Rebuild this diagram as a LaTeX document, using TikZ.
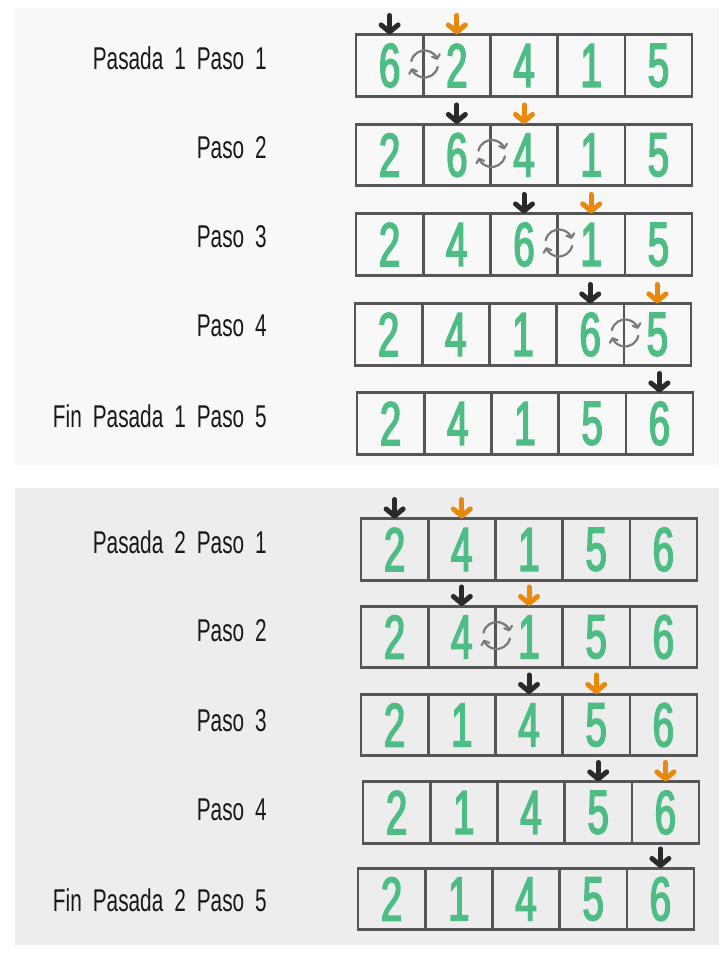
\documentclass[tikz,border=0pt]{standalone}
\usepackage{fontspec}
\setmainfont{Liberation Sans}
\newfontfamily\handfont[FakeStretch=0.66,WordSpace=1.9]{Liberation Sans}
\newfontfamily\digitfont[FakeStretch=0.62,FakeBold=2.5]{Liberation Sans}
\usetikzlibrary{arrows.meta,calc}
\definecolor{panelA}{HTML}{F8F8F8}
\definecolor{panelB}{HTML}{EDEDED}
\definecolor{cellline}{HTML}{555555}
\definecolor{digitgreen}{HTML}{4EBD84}
\definecolor{ptrblack}{HTML}{2A2A2A}
\definecolor{ptrorange}{HTML}{E8890C}
\definecolor{swapgray}{HTML}{7A7A7A}
\tikzset{
  cellbox/.style={draw=cellline, line width=2.6pt, minimum width=67.2pt, minimum height=61.5pt,
    inner sep=0pt, font=\digitfont\fontsize{62}{62}\selectfont, text=digitgreen},
  lbl/.style={anchor=east, inner sep=0pt, font=\handfont\fontsize{31.5}{31.5}\selectfont, text=black!90},
  ptrarrow/.style={line width=5pt, line cap=round, -{Straight Barb[length=7pt,width=17pt,round]}},
  blackptr/.style={ptrarrow, draw=ptrblack},
  orangeptr/.style={ptrarrow, draw=ptrorange},
  swaparr/.style={draw=swapgray, line width=2.2pt, line cap=round, -{Straight Barb[length=3.5pt,width=8pt,round]}}
}
% #1 name, #2 left x, #3 centre y, #4 digits, #5 black idx, #6 orange idx, #7 swap idx
\newcommand\steprow[7]{%
  \foreach \d [count=\i] in {#4} {
    \node[cellbox] (#1c\i) at ({#2+33.6+67.2*(\i-1)},#3) {\d};
  }
  \coordinate (#1b) at ([yshift=18pt]#1c#5.north);
  \draw[blackptr] (#1b) -- ([yshift=-1pt]#1c#5.north);
  \ifnum#6>0
    \coordinate (#1o) at ([yshift=18pt]#1c#6.north);
    \draw[orangeptr] (#1o) -- ([yshift=-1pt]#1c#6.north);
  \fi
  \ifnum#7>0
    \coordinate (#1s) at ([yshift=1.5pt]#1c#7.east);
    \draw[swaparr] ([shift={(192:13.5)}]#1s) arc[start angle=192, end angle=342, radius=13.5];
    \draw[swaparr] ([shift={(12:13.5)}]#1s) arc[start angle=12, end angle=162, radius=13.5];
  \fi
}
\begin{document}
\begin{tikzpicture}[x=1pt, y=-1pt]
\useasboundingbox (0,0) rectangle (726,953);
\fill[white] (0,0) rectangle (726,953);
\fill[panelA] (15,8) rectangle (719,465);
\fill[panelB] (15,488) rectangle (719,945);

% Pasada 1
\node[lbl] (p1l1) at (267,58.5) {Pasada 1 Paso 1};
\node[lbl] (p1l2) at (267,147.5) {Paso 2};
\node[lbl] (p1l3) at (267,236.5) {Paso 3};
\node[lbl] (p1l4) at (267,326) {Paso 4};
\node[lbl] (p1l5) at (267,416) {Fin Pasada 1 Paso 5};
\steprow{p1r1}{356}{65.5}{6,2,4,1,5}{1}{2}{1}
\steprow{p1r2}{356}{155}{2,6,4,1,5}{2}{3}{2}
\steprow{p1r3}{356}{244.5}{2,4,6,1,5}{3}{4}{3}
\steprow{p1r4}{355}{334.5}{2,4,1,6,5}{4}{5}{4}
\steprow{p1r5}{357}{423.5}{2,4,1,5,6}{5}{0}{0}

% Pasada 2
\node[lbl] (p2l1) at (267,542.5) {Pasada 2 Paso 1};
\node[lbl] (p2l2) at (267,631) {Paso 2};
\node[lbl] (p2l3) at (267,720.5) {Paso 3};
\node[lbl] (p2l4) at (267,810) {Paso 4};
\node[lbl] (p2l5) at (267,900) {Fin Pasada 2 Paso 5};
\steprow{p2r1}{361}{549.5}{2,4,1,5,6}{1}{2}{0}
\steprow{p2r2}{361}{637}{2,4,1,5,6}{2}{3}{2}
\steprow{p2r3}{361}{725}{2,1,4,5,6}{3}{4}{0}
\steprow{p2r4}{363}{812.5}{2,1,4,5,6}{4}{5}{0}
\steprow{p2r5}{358}{899}{2,1,4,5,6}{5}{0}{0}
\end{tikzpicture}
\end{document}
